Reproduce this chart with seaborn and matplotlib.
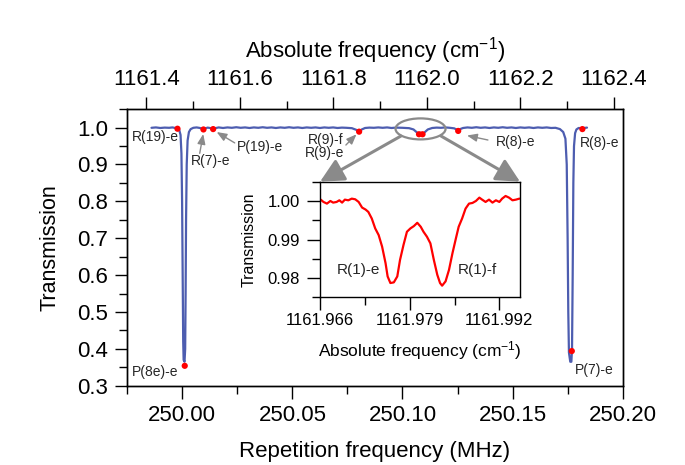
import numpy as np
import pandas as pd
import matplotlib
matplotlib.use('Agg')
import matplotlib.pyplot as plt
import seaborn as sns
from matplotlib.patches import Ellipse, ConnectionPatch
from matplotlib.ticker import MultipleLocator, FormatStrFormatter, FixedLocator

# ---------------- data ----------------
rep_freq = [
    249.9860, 249.9880, 249.9900, 249.9920, 249.9940, 249.9955, 249.9968, 249.9978,
    249.9986, 249.9992, 249.9996, 249.9999, 250.0002, 250.0004, 250.0006, 250.0010,
    250.0013, 250.0015, 250.0017, 250.0020, 250.0024, 250.0030, 250.0038, 250.0050,
    250.0065, 250.0080, 250.0090, 250.0096, 250.0102, 250.0115, 250.0130, 250.0140,
    250.0150, 250.0165, 250.0185, 250.0205, 250.0225, 250.0245, 250.0265, 250.0285,
    250.0305, 250.0325, 250.0345, 250.0365, 250.0385, 250.0405, 250.0425, 250.0445,
    250.0465, 250.0485, 250.0505, 250.0525, 250.0545, 250.0565, 250.0585, 250.0605,
    250.0625, 250.0645, 250.0665, 250.0685, 250.0705, 250.0725, 250.0745, 250.0770,
    250.0790, 250.0803, 250.0815, 250.0830, 250.0850, 250.0870, 250.0890, 250.0910,
    250.0930, 250.0950, 250.0970, 250.1000, 250.1030, 250.1050, 250.1065, 250.1075,
    250.1083, 250.1091, 250.1100, 250.1115, 250.1135, 250.1155, 250.1175, 250.1195,
    250.1215, 250.1235, 250.1245, 250.1253, 250.1262, 250.1275, 250.1295, 250.1315,
    250.1335, 250.1355, 250.1375, 250.1395, 250.1415, 250.1435, 250.1455, 250.1475,
    250.1495, 250.1515, 250.1535, 250.1555, 250.1575, 250.1595, 250.1615, 250.1635,
    250.1655, 250.1675, 250.1695, 250.1715, 250.1730, 250.1740, 250.1746, 250.1750,
    250.1753, 250.1756, 250.1762, 250.1767, 250.1770, 250.1773, 250.1776, 250.1779,
    250.1784, 250.1790, 250.1800, 250.1810, 250.1817, 250.1825, 250.1838,
]
transmission = [
    0.9995, 1.0005, 0.9990, 1.0000, 0.9995, 1.0005, 0.9990, 0.9975,
    0.9940, 0.9800, 0.9300, 0.8000, 0.5800, 0.4200, 0.3700, 0.3650,
    0.4000, 0.5500, 0.7500, 0.9000, 0.9650, 0.9880, 0.9960, 0.9995,
    1.0005, 0.9990, 0.9970, 0.9950, 0.9975, 1.0000, 0.9985, 0.9960,
    0.9985, 1.0005, 0.9990, 1.0005, 0.9995, 1.0010, 0.9995, 1.0005,
    0.9990, 1.0005, 0.9995, 1.0010, 0.9995, 1.0005, 0.9990, 1.0005,
    0.9995, 1.0010, 0.9995, 1.0005, 0.9990, 1.0005, 0.9995, 1.0005,
    0.9990, 1.0005, 0.9995, 1.0005, 0.9990, 1.0000, 0.9995, 0.9985,
    0.9940, 0.9890, 0.9950, 0.9990, 1.0000, 0.9995, 1.0005, 0.9995,
    1.0005, 0.9990, 1.0000, 0.9995, 0.9985, 0.9950, 0.9870, 0.9820,
    0.9860, 0.9820, 0.9870, 0.9950, 0.9990, 1.0000, 0.9995, 1.0005,
    0.9995, 0.9980, 0.9950, 0.9910, 0.9960, 0.9990, 1.0005, 0.9995,
    1.0010, 0.9995, 1.0005, 0.9990, 1.0005, 0.9995, 1.0010, 0.9995,
    1.0005, 0.9990, 1.0005, 0.9995, 1.0005, 0.9990, 1.0005, 0.9995,
    1.0005, 0.9990, 0.9995, 0.9960, 0.9880, 0.9700, 0.9000, 0.7000,
    0.5000, 0.3900, 0.3650, 0.3650, 0.4000, 0.6000, 0.8500, 0.9500,
    0.9850, 0.9950, 0.9990, 0.9985, 0.9960, 0.9990, 1.0000,
]

line_freq = [249.9978, 250.0011, 250.0096, 250.0140, 250.0803, 250.1075, 250.1091,
             250.1253, 250.1769, 250.1817]
line_trans = [0.997, 0.354, 0.995, 0.996, 0.989, 0.982, 0.982, 0.991, 0.394, 0.996]

inset_wavenumber = [
    1161.9661, 1161.9665, 1161.9670, 1161.9675, 1161.9679, 1161.9684, 1161.9688, 1161.9692,
    1161.9696, 1161.9701, 1161.9706, 1161.9711, 1161.9716, 1161.9721, 1161.9726, 1161.9730,
    1161.9735, 1161.9740, 1161.9745, 1161.9750, 1161.9755, 1161.9758, 1161.9762, 1161.9767,
    1161.9772, 1161.9776, 1161.9781, 1161.9786, 1161.9791, 1161.9796, 1161.9801, 1161.9806,
    1161.9810, 1161.9815, 1161.9820, 1161.9825, 1161.9830, 1161.9834, 1161.9837, 1161.9842,
    1161.9847, 1161.9852, 1161.9857, 1161.9861, 1161.9866, 1161.9871, 1161.9876, 1161.9881,
    1161.9886, 1161.9891, 1161.9895, 1161.9900, 1161.9905, 1161.9910, 1161.9915, 1161.9920,
    1161.9924, 1161.9929, 1161.9934, 1161.9939, 1161.9944, 1161.9949,
]
inset_trans = [
    1.00035, 0.99975, 0.99932, 1.00000, 0.99958, 0.99975, 1.00018, 0.99958,
    1.00035, 1.00018, 1.00061, 1.00044, 0.99975, 0.99829, 0.99778, 0.99717,
    0.99546, 0.99288, 0.99116, 0.98815, 0.98386, 0.98042, 0.97871, 0.97888,
    0.98042, 0.98472, 0.98858, 0.99202, 0.99288, 0.99348, 0.99434, 0.99331,
    0.99202, 0.99073, 0.98901, 0.98472, 0.98085, 0.97871, 0.97802, 0.97914,
    0.98214, 0.98644, 0.99030, 0.99331, 0.99546, 0.99803, 0.99932, 0.99949,
    1.00000, 1.00087, 1.00035, 0.99975, 1.00035, 0.99958, 1.00018, 0.99975,
    1.00061, 1.00130, 1.00087, 1.00018, 1.00035, 1.00061,
]

inset_xticks = [1161.966, 1161.979, 1161.992]
inset_xminor = [1161.9725, 1161.9855]

# ---------------- style ----------------
sns.set_theme(style='ticks')
plt.rcParams['font.family'] = ['Liberation Sans', 'DejaVu Sans']
plt.rcParams['mathtext.fontset'] = 'custom'
plt.rcParams['mathtext.rm'] = 'Liberation Sans'
plt.rcParams['mathtext.it'] = 'Liberation Sans:italic'
plt.rcParams['mathtext.bf'] = 'Liberation Sans:bold'

BLUE = '#4d5db0'
GRAY = '#8a8a8a'

fig = plt.figure(figsize=(6.85, 4.65), dpi=100)
ax = fig.add_axes([0.1858, 0.1705, 0.7232, 0.5951])

main_df = pd.DataFrame({'f': rep_freq, 'T': transmission})
sns.lineplot(data=main_df, x='f', y='T', ax=ax, color=BLUE, lw=1.6,
             estimator=None, sort=False, zorder=3)
dots_df = pd.DataFrame({'f': line_freq, 'T': line_trans})
sns.scatterplot(data=dots_df, x='f', y='T', ax=ax, color='red', s=20,
                edgecolor='none', zorder=5, legend=False)

ax.set_xlim(249.975, 250.2)
ax.set_ylim(0.3, 1.0505)
ax.xaxis.set_major_locator(MultipleLocator(0.05))
ax.xaxis.set_minor_locator(MultipleLocator(0.025))
ax.xaxis.set_major_formatter(FormatStrFormatter('%.2f'))
ax.yaxis.set_major_locator(MultipleLocator(0.1))
ax.yaxis.set_minor_locator(MultipleLocator(0.05))
ax.yaxis.set_major_formatter(FormatStrFormatter('%.1f'))
ax.tick_params(which='both', direction='out', top=False, right=False,
               width=1, color='black', labelcolor='black')
ax.tick_params(which='major', length=9, labelsize=16, pad=5)
ax.tick_params(which='minor', length=5.5)
ax.set_xlabel('Repetition frequency (MHz)', fontsize=16, color='black', labelpad=11)
ax.set_ylabel('Transmission', fontsize=15.5, color='black', labelpad=12)
for s in ax.spines.values():
    s.set_color('black')
    s.set_linewidth(1)

ax2 = ax.twiny()
ax2.set_xlim(1161.359, 1162.419)
ax2.xaxis.set_major_locator(MultipleLocator(0.2))
ax2.xaxis.set_minor_locator(MultipleLocator(0.1))
ax2.xaxis.set_major_formatter(FormatStrFormatter('%.1f'))
ax2.tick_params(which='both', direction='out', width=1, color='black', labelcolor='black')
ax2.tick_params(which='major', length=9, labelsize=16, pad=5)
ax2.tick_params(which='minor', length=5.5)
ax2.set_xlabel('Absolute frequency (cm$^{-1}$)', fontsize=16, color='black', labelpad=8)
for s in ax2.spines.values():
    s.set_color('black')
    s.set_linewidth(1)

# ---------------- annotations ----------------
fs = 10
small_arrow = dict(arrowstyle='-|>,head_length=0.5,head_width=0.2', color=GRAY,
                   lw=1, shrinkA=0, shrinkB=0)
ax.text(249.9773, 0.9753, 'R(19)-e', fontsize=fs, ha='left', va='center', zorder=6)
ax.annotate('', xy=(250.0095, 0.9827), xytext=(250.0079, 0.9303),
            arrowprops=small_arrow)
ax.text(250.0128, 0.9094, 'R(7)-e', fontsize=fs, ha='center', va='center')
ax.annotate('', xy=(250.0156, 0.988), xytext=(250.0238, 0.9585),
            arrowprops=small_arrow)
ax.text(250.0246, 0.9482, 'P(19)-e', fontsize=fs, ha='left', va='center')
ax.annotate('', xy=(250.0791, 0.9818), xytext=(250.0743, 0.9528),
            arrowprops=small_arrow)
ax.text(250.0734, 0.949, 'R(9)-f\nR(9)-e', fontsize=fs, ha='right', va='center',
        linespacing=0.95)
ax.annotate('', xy=(250.1293, 0.9786), xytext=(250.1388, 0.9664),
            arrowprops=small_arrow)
ax.text(250.1423, 0.9618, 'R(8)-e', fontsize=fs, ha='left', va='center')
ax.text(250.1806, 0.959, 'R(8)-e', fontsize=fs, ha='left', va='center')
ax.text(249.977, 0.338, 'P(8e)-e', fontsize=fs, ha='left', va='center')
ax.text(250.1784, 0.3426, 'P(7)-e', fontsize=fs, ha='left', va='center')

ell = Ellipse((250.1082, 0.9965), width=0.0227, height=0.057, fill=False,
              edgecolor=GRAY, lw=1.6, zorder=6)
ax.add_patch(ell)

# ---------------- inset ----------------
axin = fig.add_axes([0.4672, 0.3606, 0.292, 0.2486])
axin.set_facecolor('white')
inset_df = pd.DataFrame({'w': inset_wavenumber, 'T': inset_trans})
sns.lineplot(data=inset_df, x='w', y='T', ax=axin, color='red', lw=1.6,
             estimator=None, sort=False)
axin.set_xlim(1161.966, 1161.995)
axin.set_ylim(0.975, 1.005)
axin.xaxis.set_major_locator(FixedLocator(inset_xticks))
axin.xaxis.set_minor_locator(FixedLocator(inset_xminor))
axin.xaxis.set_major_formatter(FormatStrFormatter('%.3f'))
axin.yaxis.set_major_locator(MultipleLocator(0.01))
axin.yaxis.set_minor_locator(MultipleLocator(0.005))
axin.yaxis.set_major_formatter(FormatStrFormatter('%.2f'))
axin.tick_params(which='both', direction='out', width=1, color='black', labelcolor='black')
axin.tick_params(axis='x', which='major', length=9.5, labelsize=12, pad=2)
axin.tick_params(axis='y', which='major', length=9.5, labelsize=12, pad=5)
axin.tick_params(which='minor', length=5.5)
axin.set_xlabel('Absolute frequency (cm$^{-1}$)', fontsize=12.5, color='black', labelpad=8)
axin.set_ylabel('Transmission', fontsize=11.5, color='black', labelpad=8)
for s in axin.spines.values():
    s.set_color('black')
    s.set_linewidth(1)
axin.text(1161.9715, 0.9821, 'R(1)-e', fontsize=11, ha='center', va='center')
axin.text(1161.986, 0.9821, 'R(1)-f', fontsize=11, ha='left', va='center')

for xa, xb in [((250.0993, 0.9772), (0, 1)), ((250.1175, 0.9772), (1, 1))]:
    cp = ConnectionPatch(xyA=xa, coordsA=ax.transData, xyB=xb, coordsB=axin.transAxes,
                         arrowstyle='-|>,head_length=0.9,head_width=0.45',
                         mutation_scale=16, color=GRAY, lw=2.2, shrinkA=0, shrinkB=0,
                         zorder=10)
    fig.add_artist(cp)

fig.savefig('out.png', dpi=100)
